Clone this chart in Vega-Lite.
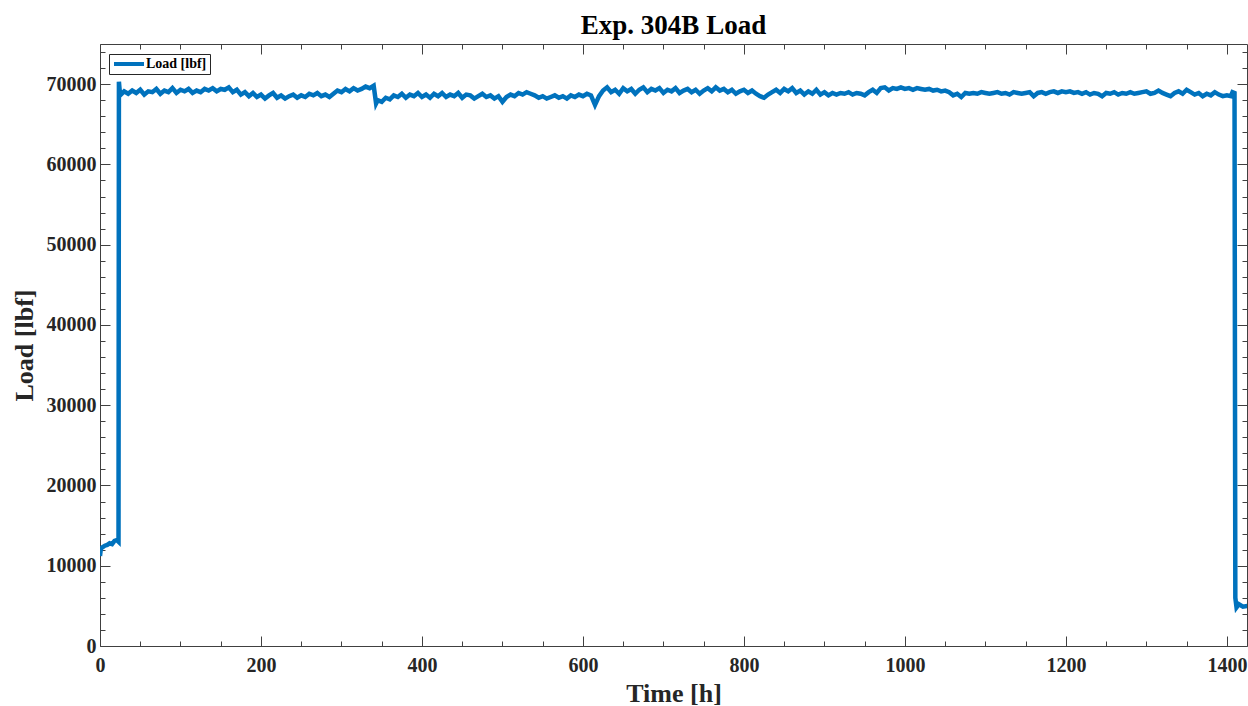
{
  "$schema": "https://vega.github.io/schema/vega-lite/v6.json",
  "width": 1147,
  "height": 602,
  "autosize": "none",
  "padding": {"left": 100, "top": 44, "right": 1, "bottom": 60},
  "background": "white",
  "config": {"view": {"stroke": null}},
  "title": {"text": "Exp. 304B Load", "font": "Liberation Serif", "fontSize": 27, "fontWeight": "bold", "color": "#000000", "anchor": "middle", "offset": 2},
  "datasets": {
    "load": [
      {"t":0,"v":11200},{"t":1,"v":12100},{"t":3,"v":12300},{"t":6,"v":12500},{"t":9,"v":12600},{"t":12,"v":12800},{"t":15,"v":12700},{"t":18,"v":13100},{"t":21,"v":13200},{"t":23,"v":13000},{"t":23.5,"v":70300},{"t":25,"v":68600},
      {"t":30,"v":69100},{"t":35,"v":68800},{"t":40,"v":69200},{"t":45,"v":68900},{"t":50,"v":69300},{"t":55,"v":68700},{"t":60,"v":69100},{"t":65,"v":69000},{"t":70,"v":69400},{"t":75,"v":68800},{"t":80,"v":69200},{"t":85,"v":69000},{"t":90,"v":69500},{"t":95,"v":68900},{"t":100,"v":69300},{"t":105,"v":69100},{"t":110,"v":69400},{"t":115,"v":68900},{"t":120,"v":69200},{"t":125,"v":69000},{"t":130,"v":69400},{"t":135,"v":69200},{"t":140,"v":69500},{"t":145,"v":69100},{"t":150,"v":69400},{"t":155,"v":69300},{"t":160,"v":69600},{"t":165,"v":69000},{"t":170,"v":69300},{"t":175,"v":68700},{"t":180,"v":69000},{"t":185,"v":68500},{"t":190,"v":68900},{"t":195,"v":68400},{"t":200,"v":68700},{"t":205,"v":68200},{"t":210,"v":68600},{"t":215,"v":68900},{"t":220,"v":68300},{"t":225,"v":68600},{"t":230,"v":68200},{"t":235,"v":68500},{"t":240,"v":68700},{"t":245,"v":68300},{"t":250,"v":68600},{"t":255,"v":68400},{"t":260,"v":68800},{"t":265,"v":68600},{"t":270,"v":68900},{"t":275,"v":68500},{"t":280,"v":68700},{"t":285,"v":68400},{"t":290,"v":68800},{"t":295,"v":69200},{"t":300,"v":69000},{"t":305,"v":69400},{"t":310,"v":69100},{"t":315,"v":69500},{"t":320,"v":69200},{"t":325,"v":69400},{"t":330,"v":69700},{"t":335,"v":69500},{"t":340,"v":69800},{"t":343,"v":67600},{"t":345,"v":68000},{"t":350,"v":67800},{"t":355,"v":68300},{"t":360,"v":68100},{"t":365,"v":68600},{"t":370,"v":68400},{"t":375,"v":68800},{"t":380,"v":68300},{"t":385,"v":68700},{"t":390,"v":68500},{"t":395,"v":68900},{"t":400,"v":68400},{"t":405,"v":68700},{"t":410,"v":68300},{"t":415,"v":68800},{"t":420,"v":68500},{"t":425,"v":68900},{"t":430,"v":68400},{"t":435,"v":68700},{"t":440,"v":68500},{"t":445,"v":68900},{"t":450,"v":68300},{"t":455,"v":68700},{"t":460,"v":68600},{"t":465,"v":68200},{"t":470,"v":68500},{"t":475,"v":68800},{"t":480,"v":68400},{"t":485,"v":68600},{"t":490,"v":68200},{"t":495,"v":68500},{"t":500,"v":67800},{"t":505,"v":68400},{"t":510,"v":68700},{"t":515,"v":68500},{"t":520,"v":68900},{"t":525,"v":68700},{"t":530,"v":69000},{"t":535,"v":68800},{"t":540,"v":68600},{"t":545,"v":68300},{"t":550,"v":68500},{"t":555,"v":68200},{"t":560,"v":68400},{"t":565,"v":68600},{"t":570,"v":68300},{"t":575,"v":68500},{"t":580,"v":68200},{"t":585,"v":68600},{"t":590,"v":68400},{"t":595,"v":68700},{"t":600,"v":68500},{"t":605,"v":68800},{"t":610,"v":68600},{"t":615,"v":67400},{"t":620,"v":68500},{"t":625,"v":69200},{"t":630,"v":69600},{"t":635,"v":69000},{"t":640,"v":69300},{"t":645,"v":68800},{"t":650,"v":69500},{"t":655,"v":69100},{"t":660,"v":69400},{"t":665,"v":68800},{"t":670,"v":69300},{"t":675,"v":69600},{"t":680,"v":69000},{"t":685,"v":69400},{"t":690,"v":69200},{"t":695,"v":69500},{"t":700,"v":68900},{"t":705,"v":69300},{"t":710,"v":69100},{"t":715,"v":69500},{"t":720,"v":68900},{"t":725,"v":69200},{"t":730,"v":69400},{"t":735,"v":69000},{"t":740,"v":69300},{"t":745,"v":68800},{"t":750,"v":69200},{"t":755,"v":69500},{"t":760,"v":69100},{"t":765,"v":69600},{"t":770,"v":69200},{"t":775,"v":69400},{"t":780,"v":69000},{"t":785,"v":69300},{"t":790,"v":68800},{"t":795,"v":69100},{"t":800,"v":69300},{"t":805,"v":68900},{"t":810,"v":69200},{"t":815,"v":68800},{"t":820,"v":68500},{"t":825,"v":68300},{"t":830,"v":68700},{"t":835,"v":69000},{"t":840,"v":69300},{"t":845,"v":68900},{"t":850,"v":69400},{"t":855,"v":69100},{"t":860,"v":69500},{"t":865,"v":68900},{"t":870,"v":69200},{"t":875,"v":68700},{"t":880,"v":69100},{"t":885,"v":68800},{"t":890,"v":69300},{"t":895,"v":68700},{"t":900,"v":69000},{"t":905,"v":68600},{"t":910,"v":68900},{"t":915,"v":68700},{"t":920,"v":68900},{"t":925,"v":68800},{"t":930,"v":69000},{"t":935,"v":68700},{"t":940,"v":68900},{"t":945,"v":68800},{"t":950,"v":68600},{"t":955,"v":69000},{"t":960,"v":69300},{"t":965,"v":68900},{"t":970,"v":69500},{"t":975,"v":69600},{"t":980,"v":69200},{"t":985,"v":69500},{"t":990,"v":69400},{"t":995,"v":69600},{"t":1000,"v":69400},{"t":1005,"v":69500},{"t":1010,"v":69300},{"t":1015,"v":69500},{"t":1020,"v":69400},{"t":1025,"v":69300},{"t":1030,"v":69400},{"t":1035,"v":69200},{"t":1040,"v":69300},{"t":1045,"v":69100},{"t":1050,"v":69200},{"t":1055,"v":69000},{"t":1060,"v":68600},{"t":1065,"v":68800},{"t":1070,"v":68400},{"t":1075,"v":68900},{"t":1080,"v":68800},{"t":1085,"v":68900},{"t":1090,"v":68800},{"t":1095,"v":69000},{"t":1100,"v":68900},{"t":1105,"v":68800},{"t":1110,"v":68900},{"t":1115,"v":69000},{"t":1120,"v":68800},{"t":1125,"v":68900},{"t":1130,"v":68700},{"t":1135,"v":69000},{"t":1140,"v":68900},{"t":1145,"v":68800},{"t":1150,"v":68900},{"t":1155,"v":69000},{"t":1160,"v":68500},{"t":1165,"v":68900},{"t":1170,"v":69000},{"t":1175,"v":68800},{"t":1180,"v":69000},{"t":1185,"v":69100},{"t":1190,"v":68900},{"t":1195,"v":69100},{"t":1200,"v":69000},{"t":1205,"v":69100},{"t":1210,"v":68900},{"t":1215,"v":69000},{"t":1220,"v":68800},{"t":1225,"v":69000},{"t":1230,"v":68700},{"t":1235,"v":68900},{"t":1240,"v":68800},{"t":1245,"v":68500},{"t":1250,"v":68900},{"t":1255,"v":68800},{"t":1260,"v":69000},{"t":1265,"v":68700},{"t":1270,"v":68900},{"t":1275,"v":68800},{"t":1280,"v":69000},{"t":1285,"v":68800},{"t":1290,"v":68900},{"t":1295,"v":69000},{"t":1300,"v":69100},{"t":1305,"v":68800},{"t":1310,"v":68900},{"t":1315,"v":69200},{"t":1320,"v":68900},{"t":1325,"v":68700},{"t":1330,"v":68500},{"t":1335,"v":68900},{"t":1340,"v":69100},{"t":1345,"v":68800},{"t":1350,"v":69300},{"t":1355,"v":69000},{"t":1360,"v":68700},{"t":1365,"v":68900},{"t":1370,"v":68500},{"t":1375,"v":68800},{"t":1380,"v":68600},{"t":1385,"v":69000},{"t":1390,"v":68700},{"t":1395,"v":68500},{"t":1400,"v":68600},{"t":1405,"v":68500},{"t":1407,"v":69000},{"t":1409.5,"v":68900},{"t":1410.5,"v":6000},{"t":1412,"v":4800},{"t":1415,"v":5200},{"t":1420,"v":4900},{"t":1426,"v":5000}
    ]
  },
  "data": {"name": "load"},
  "layer": [
    {
      "mark": {"type": "line", "strokeWidth": 4.5, "clip": true},
      "encoding": {
        "x": {"field": "t", "type": "quantitative",
          "scale": {"domain": [0, 1425], "nice": false, "zero": false},
          "axis": {"orient": "bottom", "title": "Time [h]", "values": [0,50,100,150,200,250,300,350,400,450,500,550,600,650,700,750,800,850,900,950,1000,1050,1100,1150,1200,1250,1300,1350,1400],
            "labelExpr": "datum.value % 200 === 0 ? datum.label : ''", "format": "d",
            "tickSize": {"condition": {"test": "datum.value % 200 === 0", "value": -10}, "value": -5},
            "grid": false, "domainColor": "#404040", "tickColor": "#404040", "domainWidth": 1, "tickWidth": 1,
            "labelFont": "Liberation Serif", "labelFontSize": 20, "labelFontWeight": "bold", "labelColor": "#262626", "labelPadding": 19, "labelFlush": false, "labelOverlap": false,
            "titleFont": "Liberation Serif", "titleFontSize": 26, "titleFontWeight": "bold", "titleColor": "#262626", "titlePadding": 0}},
        "y": {"field": "v", "type": "quantitative",
          "scale": {"domain": [0, 75000], "nice": false},
          "axis": {"orient": "left", "title": "Load [lbf]", "values": [0,2000,4000,6000,8000,10000,12000,14000,16000,18000,20000,22000,24000,26000,28000,30000,32000,34000,36000,38000,40000,42000,44000,46000,48000,50000,52000,54000,56000,58000,60000,62000,64000,66000,68000,70000,72000,74000],
            "labelExpr": "datum.value % 10000 === 0 ? datum.label : ''", "format": "d",
            "tickSize": {"condition": {"test": "datum.value % 10000 === 0", "value": -10}, "value": -5},
            "grid": false, "domainColor": "#404040", "tickColor": "#404040", "domainWidth": 1, "tickWidth": 1,
            "labelFont": "Liberation Serif", "labelFontSize": 20, "labelFontWeight": "bold", "labelColor": "#262626", "labelPadding": 14, "labelFlush": false, "labelOverlap": false,
            "titleFont": "Liberation Serif", "titleFontSize": 26, "titleFontWeight": "bold", "titleColor": "#262626", "titlePadding": 9}},
        "color": {"datum": "Load [lbf]", "type": "nominal",
          "scale": {"range": ["#0072BD"]},
          "legend": {"title": null, "orient": "none", "legendX": 9, "legendY": 10, "strokeColor": "#262626", "fillColor": "white", "padding": 3,
            "symbolType": "stroke", "symbolSize": 900, "symbolStrokeWidth": 4, "symbolOffset": 0, "clipHeight": 14,
            "labelFont": "Liberation Serif", "labelFontSize": 14, "labelFontWeight": "bold", "labelColor": "#000000", "labelOffset": 0}}
      }
    },
    {
      "mark": {"type": "line", "strokeOpacity": 0, "clip": true},
      "encoding": {
        "x": {"field": "t", "type": "quantitative",
          "axis": {"orient": "top", "title": null, "labels": false, "values": [0,50,100,150,200,250,300,350,400,450,500,550,600,650,700,750,800,850,900,950,1000,1050,1100,1150,1200,1250,1300,1350,1400],
            "tickSize": {"condition": {"test": "datum.value % 200 === 0", "value": -10}, "value": -5},
            "grid": false, "domainColor": "#404040", "tickColor": "#404040", "domainWidth": 1, "tickWidth": 1}},
        "y": {"field": "v", "type": "quantitative",
          "axis": {"orient": "right", "title": null, "labels": false, "values": [0,2000,4000,6000,8000,10000,12000,14000,16000,18000,20000,22000,24000,26000,28000,30000,32000,34000,36000,38000,40000,42000,44000,46000,48000,50000,52000,54000,56000,58000,60000,62000,64000,66000,68000,70000,72000,74000],
            "tickSize": {"condition": {"test": "datum.value % 10000 === 0", "value": -10}, "value": -5},
            "grid": false, "domainColor": "#404040", "tickColor": "#404040", "domainWidth": 1, "tickWidth": 1}}
      }
    }
  ]
}
